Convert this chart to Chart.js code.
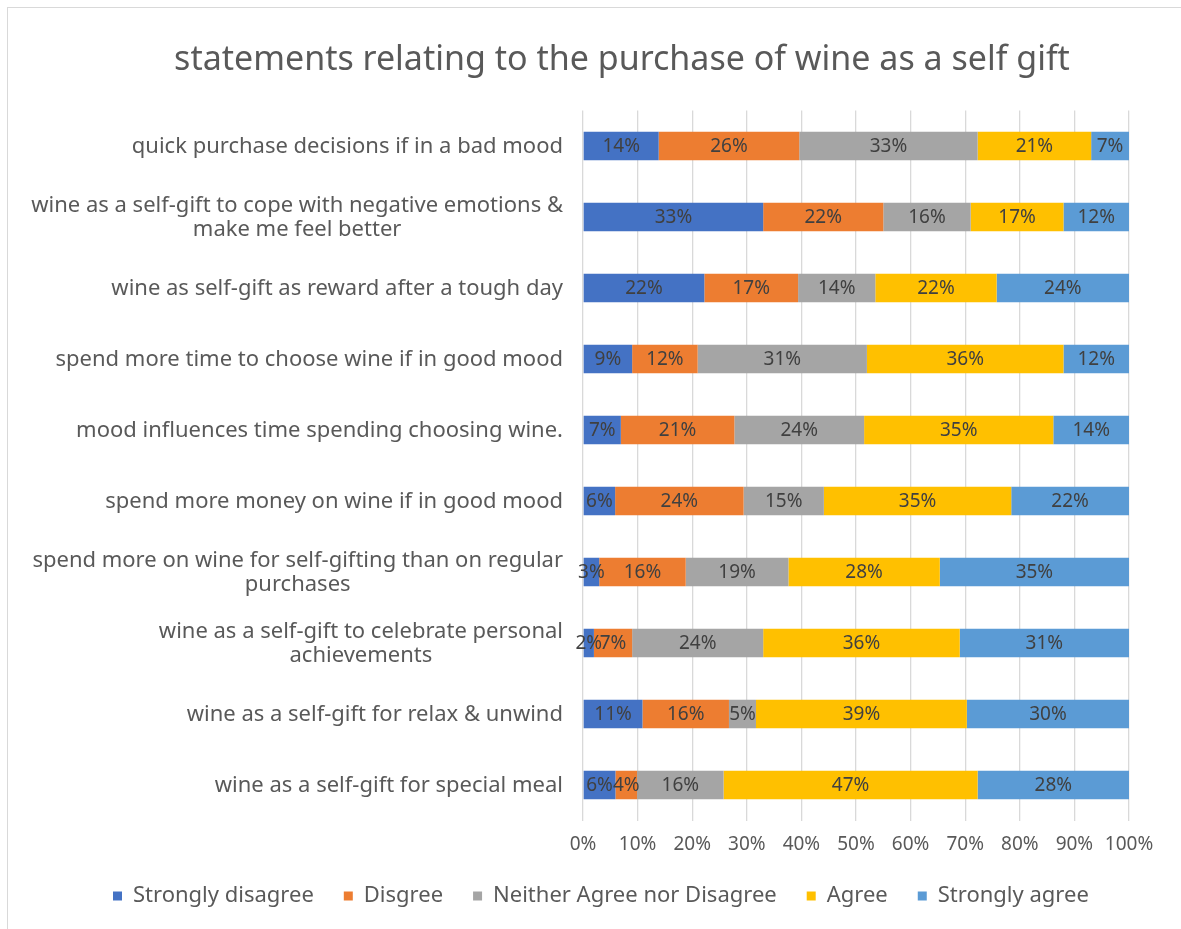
<!DOCTYPE html>
<html>
<head>
<meta charset="utf-8">
<script src="https://cdn.jsdelivr.net/npm/chart.js@4.4.1/dist/chart.umd.min.js"></script>
<style>
  html, body { margin: 0; padding: 0; background: #fff; overflow: hidden; }
  .frame {
    position: absolute; left: 7px; top: 7px; width: 1400px; height: 1100px;
    border-left: 1.5px solid #d9d9d9; border-top: 1.5px solid #d9d9d9;
  }
  #chart { position: absolute; left: 0; top: 0; }
</style>
</head>
<body>
<div class="frame"></div>
<canvas id="chart" width="1181" height="929"></canvas>
<script>
const categories = [
  ['quick purchase decisions if in a bad mood'],
  ['wine as a self-gift to cope with negative emotions &', 'make me feel better'],
  ['wine as self-gift as reward after a tough day'],
  ['spend more time to choose wine if in good mood'],
  ['mood influences time spending choosing wine.'],
  ['spend more money on wine if in good mood'],
  ['spend more on wine for self-gifting than on regular', 'purchases'],
  ['wine as a self-gift to celebrate personal', 'achievements'],
  ['wine as a self-gift for relax & unwind'],
  ['wine as a self-gift for special meal']
];

const seriesNames = ['Strongly disagree', 'Disgree', 'Neither Agree nor Disagree', 'Agree', 'Strongly agree'];
const seriesColors = ['#4472C4', '#ED7D31', '#A5A5A5', '#FFC000', '#5B9BD5'];

// answer shares per statement, in percent
const stronglyDisagree = [14, 33, 22, 9, 7, 6, 3, 2, 11, 6];
const disagree         = [26, 22, 17, 12, 21, 24, 16, 7, 16, 4];
const neither          = [33, 16, 14, 31, 24, 15, 19, 24, 5, 16];
const agree            = [21, 17, 22, 36, 35, 35, 28, 36, 39, 47];
const stronglyAgree    = [7, 12, 24, 12, 14, 22, 35, 31, 30, 28];

const xTicks = [0, 10, 20, 30, 40, 50, 60, 70, 80, 90, 100];

const series = [stronglyDisagree, disagree, neither, agree, stronglyAgree];
const rowTotals = categories.map((_, i) => series.reduce((s, arr) => s + arr[i], 0));

const FONT = '"Noto Sans", "DejaVu Sans", sans-serif';
const PAD_LEFT = 40;

// 100% stacked: each bar segment is its share of the row total
const datasets = series.map((arr, k) => ({
  label: seriesNames[k],
  data: arr.map((v, i) => v / rowTotals[i] * 100),
  raw: arr,
  backgroundColor: seriesColors[k],
  borderWidth: 0,
  barPercentage: 0.4,
  categoryPercentage: 1
}));

const segmentLabels = {
  id: 'segmentLabels',
  afterDatasetsDraw(chart) {
    const ctx = chart.ctx;
    ctx.save();
    ctx.font = '19px ' + FONT;
    ctx.fillStyle = '#404040';
    ctx.textAlign = 'center';
    ctx.textBaseline = 'middle';
    chart.data.datasets.forEach((ds, k) => {
      chart.getDatasetMeta(k).data.forEach((bar, i) => {
        const p = bar.getProps(['x', 'y', 'base'], true);
        ctx.fillText(ds.raw[i] + '%', (p.x + p.base) / 2, p.y + 1);
      });
    });
    ctx.restore();
  }
};

// category names, wrapped lines centred on each other
const categoryLabels = {
  id: 'categoryLabels',
  afterDraw(chart) {
    const ctx = chart.ctx;
    const yScale = chart.scales.y;
    const right = chart.chartArea.left - 20;
    const lineH = 24;
    ctx.save();
    ctx.font = '22px ' + FONT;
    ctx.fillStyle = '#595959';
    ctx.textAlign = 'center';
    ctx.textBaseline = 'middle';
    categories.forEach((lines, i) => {
      const y = yScale.getPixelForValue(i) + 1;
      const blockW = Math.max(...lines.map(t => ctx.measureText(t).width));
      const cx = right - blockW / 2;
      const top = y - (lines.length - 1) * lineH / 2;
      lines.forEach((t, j) => ctx.fillText(t, cx, top + j * lineH));
    });
    ctx.restore();
  }
};

// title is centred over a wider frame than the canvas shows; legend starts near the left edge
const placeBlocks = {
  id: 'placeBlocks',
  afterLayout(chart) {
    if (chart.titleBlock) {
      chart.titleBlock.left = 115;
      chart.titleBlock.right = chart.chartArea.right;
    }
    if (chart.legend) {
      const w = chart.legend.right - chart.legend.left;
      chart.legend.left = 83;
      chart.legend.right = 83 + w;
    }
  }
};

new Chart(document.getElementById('chart').getContext('2d'), {
  type: 'bar',
  data: {
    labels: categories.map(c => c.join(' ')),
    datasets: datasets
  },
  options: {
    indexAxis: 'y',
    responsive: false,
    animation: false,
    layout: { padding: { left: PAD_LEFT, right: 52, top: 0, bottom: 12 } },
    scales: {
      x: {
        stacked: true,
        min: 0,
        max: 100,
        afterBuildTicks(scale) { scale.ticks = xTicks.map(v => ({ value: v })); },
        afterFit(scale) { scale.height = 34.5; },
        grid: { color: '#d9d9d9', lineWidth: 1.3, drawTicks: false },
        border: { display: false },
        ticks: {
          padding: 13,
          color: '#595959',
          font: { family: FONT, size: 19 },
          callback: v => v + '%'
        }
      },
      y: {
        stacked: true,
        afterFit(scale) { scale.width = 583 - PAD_LEFT; },
        grid: { display: false },
        border: { display: false },
        ticks: { display: false }
      }
    },
    plugins: {
      title: {
        display: true,
        text: 'statements relating to the purchase of wine as a self gift',
        color: '#595959',
        font: { family: FONT, size: 34, weight: 'normal' },
        padding: { top: 39.6, bottom: 30.1 }
      },
      legend: {
        position: 'bottom',
        align: 'start',
        labels: {
          color: '#595959',
          font: { family: FONT, size: 22 },
          boxWidth: 9,
          boxHeight: 9,
          padding: 30
        }
      },
      tooltip: { enabled: false }
    }
  },
  plugins: [segmentLabels, categoryLabels, placeBlocks]
});
</script>
</body>
</html>
